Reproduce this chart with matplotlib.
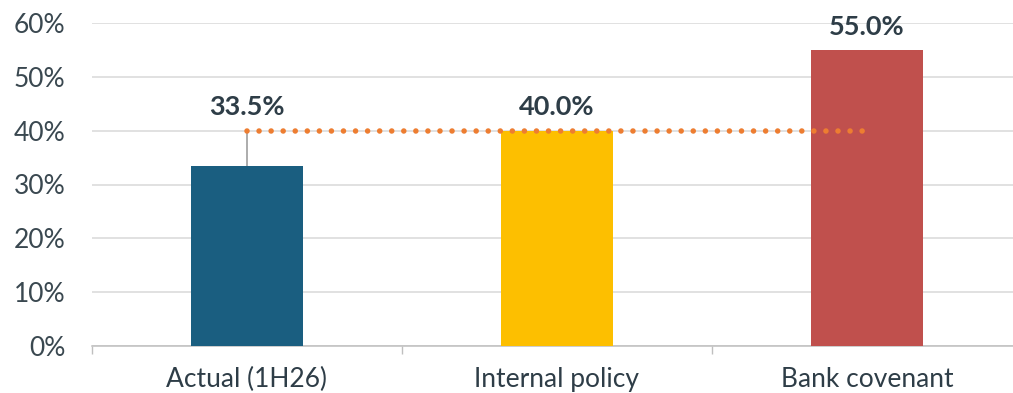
import matplotlib
matplotlib.use("Agg")
import matplotlib.pyplot as plt
from matplotlib.ticker import FixedLocator, PercentFormatter

categories = ["Actual (1H26)", "Internal policy", "Bank covenant"]
ratios = [33.5, 40.0, 55.0]
policy_level = [40.0, 40.0, 40.0]
bar_colors = ["#1a5e80", "#fdbf00", "#c0504d"]
yticks = [0, 10, 20, 30, 40, 50, 60]

plt.rcParams["font.family"] = ["Lato", "DejaVu Sans"]

W, H = 1013, 393
fig = plt.figure(figsize=(W / 100, H / 100), dpi=100)
ax = fig.add_axes([92 / W, 47 / H, 930 / W, 323 / H])

x = list(range(len(categories)))
ax.bar(x, ratios, width=0.36, color=bar_colors, zorder=3)

# gap between actual ratio and policy ceiling
ax.vlines(x[0], ratios[0], policy_level[0], color="#a6a6a6", lw=1.3, zorder=4)

# policy ceiling as dotted line
ax.plot(x, policy_level, color="#ed7d31", lw=4.0, linestyle=(0, (0.001, 2.17)),
        dash_capstyle="round", zorder=5)

for xi, v, p in zip(x, ratios, policy_level):
    anchor = max(v, p) if xi == 0 else v
    ax.annotate(f"{v:.1f}%", (xi, anchor), xytext=(0, 11), textcoords="offset points",
                ha="center", va="baseline", fontsize=19.5, fontweight="bold",
                color="#2e3d47", zorder=6)

ax.set_xlim(-0.5, 2.5)
ax.set_ylim(0, 60)
ax.set_yticks(yticks)
ax.yaxis.set_major_formatter(PercentFormatter(decimals=0))
ax.yaxis.grid(True, color="#d9d9d9", lw=1.1, zorder=0)
ax.set_axisbelow(True)

ax.set_xticks(x)
ax.set_xticklabels(categories)
ax.xaxis.set_minor_locator(FixedLocator([-0.5, 0.5, 1.5, 2.5]))
ax.tick_params(axis="x", which="major", length=0, pad=15, labelsize=19, labelcolor="#2e3d47")
ax.tick_params(axis="x", which="minor", length=6, width=1, color="#bfbfbf", direction="out")
ax.tick_params(axis="y", length=0, pad=19, labelsize=19, labelcolor="#3a4850")

for s in ["top", "right", "left"]:
    ax.spines[s].set_visible(False)
ax.spines["bottom"].set_color("#bfbfbf")
ax.spines["bottom"].set_linewidth(1.1)

fig.savefig("out.png", dpi=100)
